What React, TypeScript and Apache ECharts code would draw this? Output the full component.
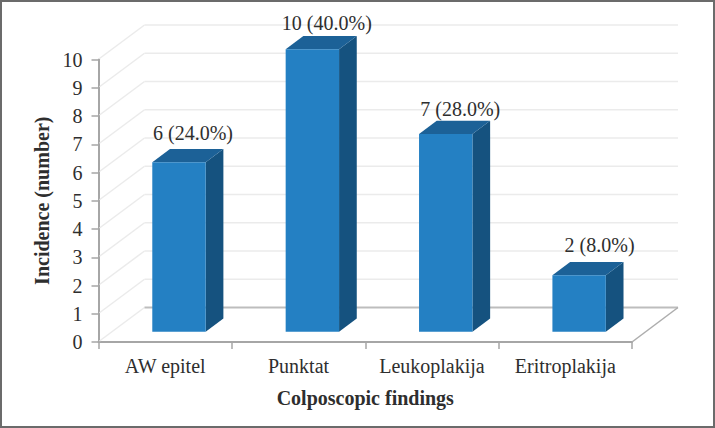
import React, { useEffect, useRef } from "react";
import * as echarts from "echarts";

const categories = ["AW epitel", "Punktat", "Leukoplakija", "Eritroplakija"];
const incidence = [6, 10, 7, 2];
const shares = ["24.0", "40.0", "28.0", "8.0"];
const yTicks = [0, 1, 2, 3, 4, 5, 6, 7, 8, 9, 10];

const labelNudges = [
  [14, -16],
  [14.5, -12.5],
  [14.5, -12],
  [20.5, -17],
];

const FONT = "'Liberation Serif', 'Times New Roman', serif";
const TEXT = "#2e2e2e";
const WALL_DX = 46;
const WALL_DY = 34.5;
const BAR_BASE_DX = 13.8;
const BAR_BASE_DY = 10.3;
const BAR_W = 53.4;
const SIDE_DX = 17.7;
const SIDE_DY = 13.3;

const wallRender = (params: any, api: any) => {
  const v = api.value(1);
  const rect = params.coordSys;
  const y = api.coord([0, v])[1];
  const x0 = rect.x;
  const x1 = rect.x + rect.width;
  const floor = v === 0;
  const light = "#ebebeb";
  const dark = "#bdbdbd";
  const children: any[] = [
    {
      type: "line",
      shape: { x1: x0 + 1, y1: y - 1, x2: x0 + WALL_DX, y2: y - WALL_DY },
      style: { stroke: light, lineWidth: 1.5 },
    },
    {
      type: "line",
      shape: { x1: x0 + WALL_DX, y1: y - WALL_DY, x2: x1 + WALL_DX, y2: y - WALL_DY },
      style: { stroke: floor ? dark : light, lineWidth: floor ? 2 : 1.5 },
    },
  ];
  if (floor) {
    children.push({
      type: "line",
      shape: { x1, y1: y, x2: x1 + WALL_DX, y2: y - WALL_DY },
      style: { stroke: "#adadad", lineWidth: 1.5 },
    });
  }
  return { type: "group", children };
};

const barRender = (params: any, api: any) => {
  const i = api.value(0);
  const v = api.value(1);
  const top = api.coord([i, v]);
  const base = api.coord([i, 0]);
  const l = top[0] + BAR_BASE_DX - BAR_W / 2;
  const r = l + BAR_W;
  const t = top[1] - BAR_BASE_DY;
  const b = base[1] - BAR_BASE_DY;
  const nudge = labelNudges[i];
  return {
    type: "group",
    children: [
      {
        type: "polygon",
        shape: { points: [[r, t], [r + SIDE_DX, t - SIDE_DY], [r + SIDE_DX, b - SIDE_DY], [r, b]] },
        style: { fill: "#15527f" },
      },
      {
        type: "polygon",
        shape: { points: [[l, t], [l + SIDE_DX, t - SIDE_DY], [r + SIDE_DX, t - SIDE_DY], [r, t]] },
        style: { fill: "#1c6197" },
      },
      {
        type: "rect",
        shape: { x: l, y: t, width: BAR_W, height: b - t },
        style: { fill: "#2480c3" },
      },
      {
        type: "text",
        style: {
          text: `${v} (${shares[i]}%)`,
          x: top[0] + BAR_BASE_DX + nudge[0],
          y: t - SIDE_DY + nudge[1],
          align: "center",
          verticalAlign: "middle",
          fill: TEXT,
          fontFamily: FONT,
          fontSize: 20,
        },
      },
    ],
  };
};

export default function App() {
  const ref = useRef<HTMLDivElement>(null);
  useEffect(() => {
    document.body.style.margin = "0";
    const chart = echarts.init(ref.current!, null, { renderer: "svg" });
    chart.setOption({
      animation: false,
      backgroundColor: "#ffffff",
      textStyle: { fontFamily: FONT },
      grid: { left: 98.5, right: 83, top: 59.5, bottom: 86 },
      xAxis: {
        type: "category",
        data: categories,
        name: "Colposcopic findings",
        nameLocation: "middle",
        nameGap: 46,
        nameTextStyle: { fontFamily: FONT, fontSize: 20, fontWeight: "bold", color: TEXT },
        axisLine: { lineStyle: { color: "#a6a6a6", width: 2 } },
        axisTick: { show: true, length: 7, lineStyle: { color: "#a6a6a6", width: 1.5 } },
        axisLabel: { fontFamily: FONT, fontSize: 20, color: TEXT, margin: 14, interval: 0 },
        splitLine: { show: false },
      },
      yAxis: {
        type: "value",
        min: 0,
        max: 10,
        interval: 1,
        name: "Incidence (number)",
        nameLocation: "middle",
        nameGap: 46,
        nameTextStyle: { fontFamily: FONT, fontSize: 20, fontWeight: "bold", color: TEXT },
        axisLine: { show: true, lineStyle: { color: "#a6a6a6", width: 2 } },
        axisTick: { show: true, length: 7, lineStyle: { color: "#a6a6a6", width: 1.5 } },
        axisLabel: { fontFamily: FONT, fontSize: 20, color: TEXT, margin: 16 },
        splitLine: { show: false },
      },
      series: [
        {
          type: "custom",
          name: "walls",
          coordinateSystem: "cartesian2d",
          renderItem: wallRender,
          data: yTicks.map((v) => [0, v]),
          silent: true,
          z: 1,
        },
        {
          type: "custom",
          name: "Incidence",
          coordinateSystem: "cartesian2d",
          renderItem: barRender,
          data: categories.map((_, i) => [i, incidence[i]]),
          z: 3,
        },
      ],
      graphic: [
        {
          type: "rect",
          silent: true,
          z: 100,
          shape: { x: 1, y: 1, width: 713, height: 426 },
          style: { fill: "none", stroke: "#6b6b6b", lineWidth: 2 },
        },
      ],
    });
    return () => chart.dispose();
  }, []);
  return <div ref={ref} style={{ width: 715, height: 428 }} />;
}
